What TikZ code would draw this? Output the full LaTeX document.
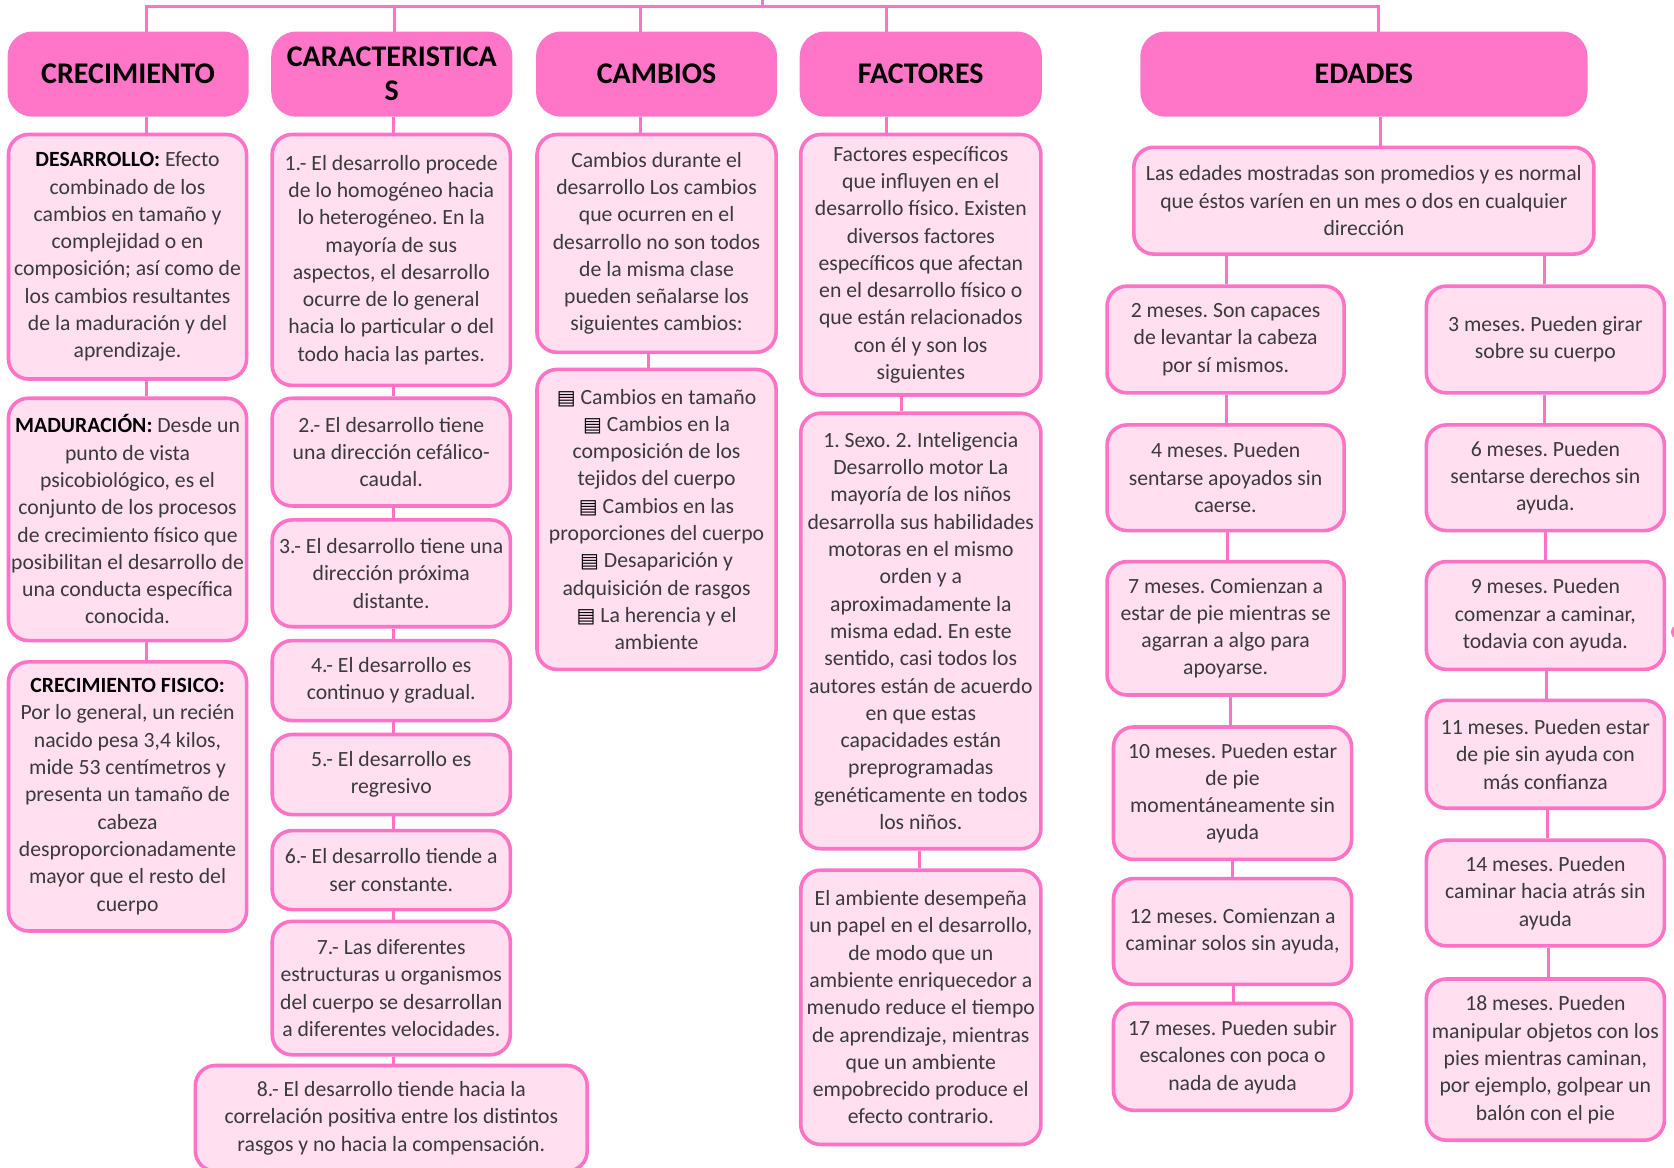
\documentclass[tikz,border=0pt]{standalone}
\usepackage{fontspec}
\setmainfont{Carlito}
\newfontfamily\symfont{DejaVu Sans}
\frenchspacing
\definecolor{hdr}{HTML}{FF76C8}
\definecolor{pinkline}{HTML}{FF72C6}
\definecolor{boxfill}{HTML}{FFDFF0}
\definecolor{txt}{HTML}{3A3A3A}
\newcommand\mybox[7]{\node[#1, minimum width={(#5-#3)*0.5pt}, minimum height={(#6-#4)*0.5pt}] (#2) at ({(#3+#5)/2},{(#4+#6)/2}) {#7};}
\newcommand\bul{{\symfont\fontsize{10}{10}\selectfont\color{black}▤}}
\tikzset{
  hdrbox/.style={draw=hdr, fill=hdr, line width=1pt, rounded corners=12pt, inner sep=0pt, align=center, font=\fontsize{15}{17}\selectfont\bfseries\frenchspacing, text=black},
  txtbox/.style={draw=pinkline, fill=boxfill, line width=1.8pt, rounded corners=10pt, inner sep=0pt, align=center, font=\fontsize{10.85}{13.65}\selectfont\frenchspacing, text=txt},
  conn/.style={draw=pinkline, line width=1.5pt, line join=miter},
}
\begin{document}
\begin{tikzpicture}[x=0.5pt,y=-0.5pt]
\useasboundingbox (0,0) rectangle (1674,1167);
\clip (0,0) rectangle (1674,1167);
% headers
\mybox{hdrbox}{h1}{8.5}{32.5}{247.7}{115.7}{CRECIMIENTO}
\mybox{hdrbox}{h2}{272.2}{32.5}{511.4}{115.7}{CARACTERISTICA\\S}
\mybox{hdrbox}{h3}{537.0}{32.5}{776.1}{115.7}{CAMBIOS}
\mybox{hdrbox}{h4}{800.7}{32.5}{1040.9}{115.7}{FACTORES}
\mybox{hdrbox}{h5}{1141.3}{32.5}{1586.5}{115.7}{EDADES}
% column 1
\mybox{txtbox}{a1}{8.5}{134.5}{246.6}{379.0}{\textbf{\color{black}DESARROLLO:} Efecto\\combinado de los\\cambios en tamaño y\\complejidad o en\\composición; así como de\\los cambios resultantes\\de la maduración y del\\aprendizaje.}
\mybox{txtbox}{a2}{8.5}{398.2}{246.6}{640.6}{\textbf{\color{black}MADURACIÓN:} Desde un\\punto de vista\\psicobiológico, es el\\conjunto de los procesos\\de crecimiento físico que\\posibilitan el desarrollo de\\una conducta específica\\conocida.}
\mybox{txtbox}{a3}{8.5}{661.9}{246.6}{931.0}{\textbf{\color{black}CRECIMIENTO FISICO:}\\Por lo general, un recién\\nacido pesa 3,4 kilos,\\mide 53 centímetros y\\presenta un tamaño de\\cabeza\\desproporcionadamente\\mayor que el resto del\\cuerpo}
% column 2
\mybox{txtbox}{b1}{272.2}{134.5}{510.3}{385.4}{1.- El desarrollo procede\\de lo homogéneo hacia\\lo heterogéneo. En la\\mayoría de sus\\aspectos, el desarrollo\\ocurre de lo general\\hacia lo particular o del\\todo hacia las partes.}
\mybox{txtbox}{b2}{272.2}{398.2}{510.3}{506.0}{2.- El desarrollo tiene\\una dirección cefálico-\\caudal.}
\mybox{txtbox}{b3}{272.2}{519.9}{510.3}{626.7}{3.- El desarrollo tiene una\\dirección próxima\\distante.}
\mybox{txtbox}{b4}{272.2}{640.6}{510.3}{720.6}{4.- El desarrollo es\\continuo y gradual.}
\mybox{txtbox}{b5}{272.2}{734.5}{510.3}{814.6}{5.- El desarrollo es\\regresivo}
\mybox{txtbox}{b6}{272.2}{830.6}{510.3}{909.6}{6.- El desarrollo tiende a\\ser constante.}
\mybox{txtbox}{b7}{272.2}{921.3}{510.3}{1054.8}{7.- Las diferentes\\estructuras u organismos\\del cuerpo se desarrollan\\a diferentes velocidades.}
\mybox{txtbox}{b8}{195.4}{1065.5}{587.2}{1171}{8.- El desarrollo tiende hacia la\\correlación positiva entre los distintos\\rasgos y no hacia la compensación.}
% column 3
\mybox{txtbox}{c1}{537.0}{134.5}{776.1}{352.3}{Cambios durante el\\desarrollo Los cambios\\que ocurren en el\\desarrollo no son todos\\de la misma clase\\pueden señalarse los\\siguientes cambios:}
\mybox{txtbox}{c2}{537.0}{369.4}{776.1}{669.4}{\bul\ Cambios en tamaño\\\bul\ Cambios en la\\composición de los\\tejidos del cuerpo\\\bul\ Cambios en las\\proporciones del cuerpo\\\bul\ Desaparición y\\adquisición de rasgos\\\bul\ La herencia y el\\ambiente}
% column 4
\mybox{txtbox}{d1}{800.7}{134.5}{1040.9}{395.0}{Factores específicos\\que influyen en el\\desarrollo físico. Existen\\diversos factores\\específicos que afectan\\en el desarrollo físico o\\que están relacionados\\con él y son los\\siguientes}
\mybox{txtbox}{d2}{800.7}{413.2}{1040.9}{848.7}{1. Sexo. 2. Inteligencia\\Desarrollo motor La\\mayoría de los niños\\desarrolla sus habilidades\\motoras en el mismo\\orden y a\\aproximadamente la\\misma edad. En este\\sentido, casi todos los\\autores están de acuerdo\\en que estas\\capacidades están\\preprogramadas\\genéticamente en todos\\los niños.}
\mybox{txtbox}{d3}{800.7}{870.1}{1040.9}{1144.5}{El ambiente desempeña\\un papel en el desarrollo,\\de modo que un\\ambiente enriquecedor a\\menudo reduce el tiempo\\de aprendizaje, mientras\\que un ambiente\\empobrecido produce el\\efecto contrario.}
% column 5
\mybox{txtbox}{e0}{1133.8}{147.3}{1593.9}{254.1}{Las edades mostradas son promedios y es normal\\que éstos varíen en un mes o dos en cualquier\\dirección}
\mybox{txtbox}{l1}{1107.1}{286.1}{1344.1}{392.9}{2 meses. Son capaces\\de levantar la cabeza\\por sí mismos.}
\mybox{txtbox}{l2}{1107.1}{424.9}{1344.1}{530.6}{4 meses. Pueden\\sentarse apoyados sin\\caerse.}
\mybox{txtbox}{l3}{1107.1}{561.6}{1344.1}{695.0}{7 meses. Comienzan a\\estar de pie mientras se\\agarran a algo para\\apoyarse.}
\mybox{txtbox}{l4}{1113.5}{727.0}{1351.6}{859.4}{10 meses. Pueden estar\\de pie\\momentáneamente sin\\ayuda}
\mybox{txtbox}{l5}{1113.5}{878.6}{1351.6}{984.3}{12 meses. Comienzan a\\caminar solos sin ayuda,}
\mybox{txtbox}{l6}{1113.5}{1003.5}{1351.6}{1110.3}{17 meses. Pueden subir\\escalones con poca o\\nada de ayuda}
\mybox{txtbox}{r1}{1426.3}{286.1}{1664.4}{392.9}{3 meses. Pueden girar\\sobre su cuerpo}
\mybox{txtbox}{r2}{1426.3}{424.9}{1664.4}{530.6}{6 meses. Pueden\\sentarse derechos sin\\ayuda.}
\mybox{txtbox}{r3}{1426.3}{561.6}{1664.4}{669.4}{9 meses. Pueden\\comenzar a caminar,\\todavia con ayuda.}
\mybox{txtbox}{r4}{1426.3}{700.3}{1664.4}{808.2}{11 meses. Pueden estar\\de pie sin ayuda con\\más confianza}
\mybox{txtbox}{r5}{1426.3}{840.2}{1664.4}{945.9}{14 meses. Pueden\\caminar hacia atrás sin\\ayuda}
\mybox{txtbox}{r6}{1426.3}{979.0}{1664.4}{1140.2}{18 meses. Pueden\\manipular objetos con los\\pies mientras caminan,\\por ejemplo, golpear un\\balón con el pie}
% bus
\coordinate (k1) at (146,6);
\coordinate (k2) at (394,6);
\coordinate (k3) at (640.6,6);
\coordinate (k4) at (886.5,6);
\coordinate (k5) at (1378.5,6);
\coordinate (kmid) at (762,6);
\coordinate (ktop) at (762,-4);
\draw[conn] (h1.north -| k1) -- (k1) -- (k5) -- (h5.north -| k5);
\draw[conn] (kmid) -- (ktop);
\draw[conn] (k2) -- (h2.north -| k2);
\draw[conn] (k3) -- (h3.north -| k3);
\draw[conn] (k4) -- (h4.north -| k4);
% column connectors
\draw[conn] (h1.south -| k1) -- (a1.north -| k1);
\draw[conn] (a1.south -| k1) -- (a2.north -| k1);
\draw[conn] (a2.south -| k1) -- (a3.north -| k1);
\coordinate (q2) at (393,0);
\draw[conn] (h2.south -| q2) -- (b1.north -| q2);
\draw[conn] (b1.south -| q2) -- (b2.north -| q2);
\draw[conn] (b2.south -| q2) -- (b3.north -| q2);
\draw[conn] (b3.south -| q2) -- (b4.north -| q2);
\draw[conn] (b4.south -| q2) -- (b5.north -| q2);
\draw[conn] (b5.south -| q2) -- (b6.north -| q2);
\draw[conn] (b6.south -| q2) -- (b7.north -| q2);
\draw[conn] (b7.south -| q2) -- (b8.north -| q2);
\coordinate (q3) at (648,0);
\draw[conn] (h3.south -| k3) -- (c1.north -| k3);
\draw[conn] (c1.south -| q3) -- (c2.north -| q3);
\coordinate (q4a) at (901,0);
\coordinate (q4b) at (919,0);
\draw[conn] (h4.south -| k4) -- (d1.north -| k4);
\draw[conn] (d1.south -| q4a) -- (d2.north -| q4a);
\draw[conn] (d2.south -| q4b) -- (d3.north -| q4b);
\coordinate (q5) at (1380,0);
\coordinate (ql) at (1226,0);
\coordinate (qr) at (1544,0);
\draw[conn] (h5.south -| q5) -- (e0.north -| q5);
\draw[conn] (e0.south -| ql) -- (l1.north -| ql);
\draw[conn] (l1.south -| ql) -- (l2.north -| ql);
\draw[conn] ([xshift=0.5pt]l2.south -| ql) -- ([xshift=0.5pt]l3.north -| ql);
\draw[conn] ([xshift=2pt]l3.south -| ql) -- ([xshift=2pt]l4.north -| ql);
\draw[conn] ([xshift=3pt]l4.south -| ql) -- ([xshift=3pt]l5.north -| ql);
\draw[conn] ([xshift=3.5pt]l5.south -| ql) -- ([xshift=3.5pt]l6.north -| ql);
\draw[conn] (e0.south -| qr) -- (r1.north -| qr);
\draw[conn] (r1.south -| qr) -- (r2.north -| qr);
\draw[conn] ([xshift=0.5pt]r2.south -| qr) -- ([xshift=0.5pt]r3.north -| qr);
\draw[conn] ([xshift=1pt]r3.south -| qr) -- ([xshift=1pt]r4.north -| qr);
\draw[conn] ([xshift=1.5pt]r4.south -| qr) -- ([xshift=1.5pt]r5.north -| qr);
\draw[conn] ([xshift=2pt]r5.south -| qr) -- ([xshift=2pt]r6.north -| qr);
% edge dot
\fill[pinkline] (1678,632) circle (3.5pt);
\end{tikzpicture}
\end{document}
